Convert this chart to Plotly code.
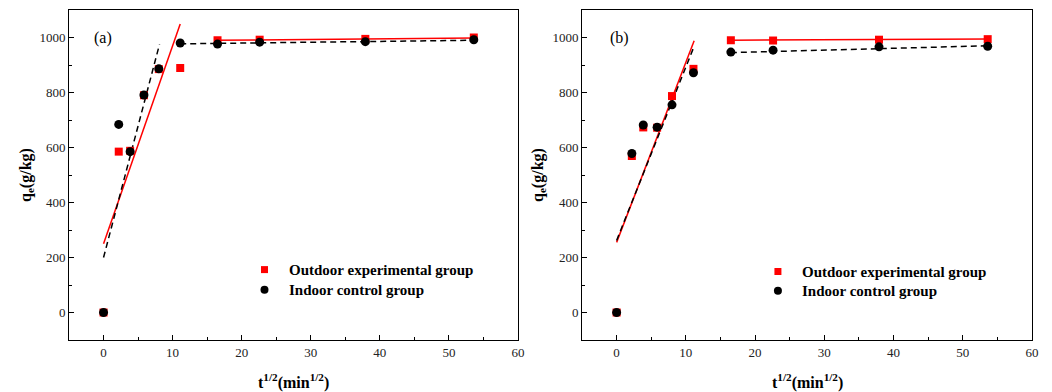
import plotly.graph_objects as go

# ---------------- data ----------------
x_pts = [0, 2.2, 3.85, 5.85, 8.0, 11.1, 16.5, 22.6, 37.9, 53.6]

a_outdoor = [0, 585, 588, 790, 885, 889, 990, 992, 995, 1000]
a_indoor = [0, 684, 585, 791, 886, 980, 976, 983, 985, 992]
b_outdoor = [0, 569, 673, 672, 787, 886, 990, 989, 992, 994]
b_indoor = [0, 578, 682, 674, 755, 872, 947, 954, 966, 968]

# fitted segments (endpoints)
a_out_fit1_x, a_out_fit1_y = [0, 11.1], [250, 1049]
a_out_fit2_x, a_out_fit2_y = [16.0, 53.6], [990, 998]
a_in_fit1_x, a_in_fit1_y = [0, 8.1], [200, 975]
a_in_fit2_x, a_in_fit2_y = [11.1, 53.6], [977, 990]

b_out_fit1_x, b_out_fit1_y = [0, 11.2], [255, 988]
b_out_fit2_x, b_out_fit2_y = [16.5, 53.7], [990, 995]
b_in_fit1_x, b_in_fit1_y = [0, 11.1], [262, 962]
b_in_fit2_x, b_in_fit2_y = [16.5, 53.7], [945, 970]

legend_labels = ["Outdoor experimental group", "Indoor control group"]
legend_x = 23.3
legend_text_x = 26.5
a_legend_y = [156, 83]
b_legend_y = [149, 79]
panel_labels = ["(a)", "(b)"]

x_ticks = [0, 10, 20, 30, 40, 50, 60]
y_ticks = [0, 200, 400, 600, 800, 1000]

RED = "#ff0000"
BLACK = "#000000"
FONT = "'Liberation Serif', 'Times New Roman', serif"

fig = go.Figure()


def add_panel(xa, ya, outd, ind, fits, leg_y, label, label_x):
    (o1x, o1y), (o2x, o2y), (i1x, i1y), (i2x, i2y) = fits
    for fx, fy in [(o1x, o1y), (o2x, o2y)]:
        fig.add_trace(go.Scatter(x=fx, y=fy, mode="lines", xaxis=xa, yaxis=ya,
                                 line=dict(color=RED, width=1.5), showlegend=False,
                                 hoverinfo="skip"))
    for fx, fy in [(i1x, i1y), (i2x, i2y)]:
        fig.add_trace(go.Scatter(x=fx, y=fy, mode="lines", xaxis=xa, yaxis=ya,
                                 line=dict(color=BLACK, width=1.5, dash="6px,4px"),
                                 showlegend=False, hoverinfo="skip"))
    fig.add_trace(go.Scatter(x=x_pts, y=outd, mode="markers", xaxis=xa, yaxis=ya,
                             marker=dict(symbol="square", size=8, color=RED),
                             name=legend_labels[0], showlegend=False))
    fig.add_trace(go.Scatter(x=x_pts, y=ind, mode="markers", xaxis=xa, yaxis=ya,
                             marker=dict(symbol="circle", size=9, color=BLACK),
                             name=legend_labels[1], showlegend=False))
    # legend markers
    fig.add_trace(go.Scatter(x=[legend_x], y=[leg_y[0]], mode="markers", xaxis=xa, yaxis=ya,
                             marker=dict(symbol="square", size=7, color=RED),
                             showlegend=False, hoverinfo="skip"))
    fig.add_trace(go.Scatter(x=[legend_x], y=[leg_y[1]], mode="markers", xaxis=xa, yaxis=ya,
                             marker=dict(symbol="circle", size=8, color=BLACK),
                             showlegend=False, hoverinfo="skip"))
    for txt, yy in zip(legend_labels, leg_y):
        fig.add_annotation(x=legend_text_x, y=yy, xref=xa, yref=ya, text="<b>%s</b>" % txt,
                           showarrow=False, xanchor="left", yanchor="middle",
                           font=dict(family=FONT, size=15, color=BLACK))
    fig.add_annotation(x=label_x, y=1000, xref=xa, yref=ya, text=label, showarrow=False,
                       xanchor="left", yanchor="middle",
                       font=dict(family=FONT, size=16, color=BLACK))


add_panel("x", "y", a_outdoor, a_indoor,
          [(a_out_fit1_x, a_out_fit1_y), (a_out_fit2_x, a_out_fit2_y),
           (a_in_fit1_x, a_in_fit1_y), (a_in_fit2_x, a_in_fit2_y)],
          a_legend_y, panel_labels[0], -1.7)
add_panel("x2", "y2", b_outdoor, b_indoor,
          [(b_out_fit1_x, b_out_fit1_y), (b_out_fit2_x, b_out_fit2_y),
           (b_in_fit1_x, b_in_fit1_y), (b_in_fit2_x, b_in_fit2_y)],
          b_legend_y, panel_labels[1], -1.2)

W, H = 1052, 392
ML, MR, MT, MB = 69, 20, 10, 52
PW = W - ML - MR
PH = H - MT - MB


def px_x(p):
    return (p - ML) / PW


def px_y(p):
    return (H - MB - p) / PH


axis_common = dict(showgrid=False, zeroline=False, showline=True, linecolor="#000000",
                   linewidth=1, mirror=True, ticks="inside", ticklen=5, tickwidth=1,
                   tickcolor="#000000",
                   tickfont=dict(family=FONT, size=13, color="#222222"))
xaxis_common = dict(axis_common, range=[-5, 60], tickvals=x_ticks,
                    minor=dict(ticks="inside", ticklen=3, dtick=5, tick0=0,
                               tickcolor="#000000", showgrid=False))
yaxis_common = dict(axis_common, range=[-100, 1100], tickvals=y_ticks,
                    minor=dict(ticks="inside", ticklen=3, dtick=100, tick0=0,
                               tickcolor="#000000", showgrid=False))

fig.update_layout(
    width=W, height=H,
    margin=dict(l=ML, r=MR, t=MT, b=MB),
    paper_bgcolor="white", plot_bgcolor="white",
    showlegend=False,
    font=dict(family=FONT, color=BLACK),
    xaxis=dict(xaxis_common, domain=[0, px_x(518)], anchor="y"),
    yaxis=dict(yaxis_common, domain=[0, 1], anchor="x"),
    xaxis2=dict(xaxis_common, domain=[px_x(582), 1], anchor="y2"),
    yaxis2=dict(yaxis_common, domain=[0, 1], anchor="x2"),
)

xt = "<b>t<sup>1/2</sup>(min<sup>1/2</sup>)</b>"
yt = "<b>q<sub>e</sub>(g/kg)</b>"
for cx in [px_x(293.5), px_x(807)]:
    fig.add_annotation(x=cx, y=px_y(381), xref="paper", yref="paper", text=xt,
                       showarrow=False, xanchor="center", yanchor="middle",
                       font=dict(family=FONT, size=16, color=BLACK))
for cx in [px_x(26), px_x(538)]:
    fig.add_annotation(x=cx, y=px_y(175), xref="paper", yref="paper", text=yt,
                       showarrow=False, xanchor="center", yanchor="middle", textangle=-90,
                       font=dict(family=FONT, size=16, color=BLACK))

fig.write_html(
    "out.html",
    config={"displayModeBar": False},
    post_script="document.body.style.margin='0';document.body.style.overflow='hidden';",
)
